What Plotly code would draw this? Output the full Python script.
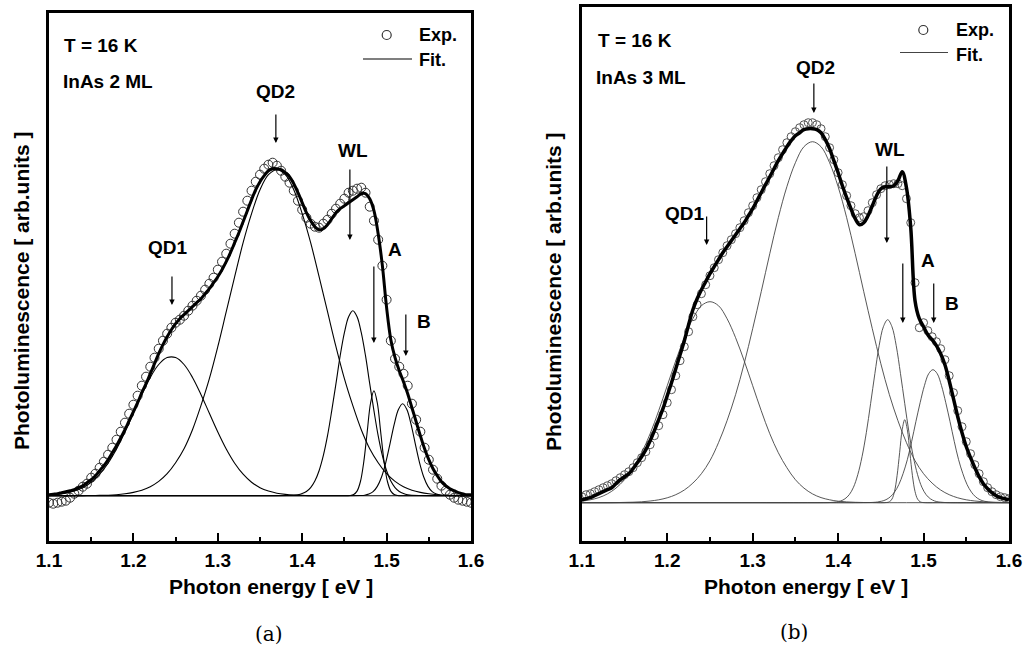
import plotly.graph_objects as go

W, H = 1025, 648
FONT = "Liberation Sans, Arial, Helvetica, sans-serif"

# sampling grid (eV) of the experimental points and total fit curve
E_GRID = [round(1.100 + 0.005 * i, 3) for i in range(101)]
# grid (eV) of the broad Gaussian components
E_COARSE = [round(1.10 + 0.01 * i, 2) for i in range(51)]

# ---------------- panel (a): InAs 2 ML ----------------
A_EXP = [-0.07, -0.08, -0.07, -0.06, -0.05, -0.02, 0.02, 0.05, 0.09, 0.12,
         0.18, 0.22, 0.28, 0.34, 0.41, 0.48, 0.56, 0.64, 0.73, 0.82,
         0.91, 1.00, 1.10, 1.19, 1.29, 1.38, 1.47, 1.55, 1.62, 1.68,
         1.73, 1.76, 1.80, 1.85, 1.90, 1.95, 2.00, 2.06, 2.12, 2.18,
         2.26, 2.34, 2.42, 2.52, 2.62, 2.73, 2.84, 2.95, 3.05, 3.14,
         3.21, 3.27, 3.31, 3.33, 3.30, 3.25, 3.19, 3.13, 3.05, 2.95,
         2.86, 2.78, 2.72, 2.69, 2.68, 2.72, 2.76, 2.82, 2.87, 2.92,
         2.97, 3.03, 3.05, 3.07, 3.08, 3.03, 2.89, 2.75, 2.56, 2.30,
         1.96, 1.55, 1.37, 1.29, 1.22, 1.10, 0.92, 0.76, 0.64, 0.48,
         0.36, 0.26, 0.17, 0.10, 0.05, 0.01, -0.02, -0.04, -0.05, -0.06, -0.07]
A_FIT = [0.01, 0.015, 0.02, 0.03, 0.04, 0.05, 0.06, 0.08, 0.10, 0.13,
         0.16, 0.20, 0.25, 0.30, 0.36, 0.43, 0.50, 0.58, 0.66, 0.75,
         0.84, 0.93, 1.03, 1.12, 1.22, 1.32, 1.42, 1.51, 1.59, 1.66,
         1.72, 1.77, 1.81, 1.85, 1.89, 1.93, 1.97, 2.02, 2.07, 2.13,
         2.19, 2.26, 2.34, 2.43, 2.53, 2.63, 2.74, 2.85, 2.96, 3.06,
         3.14, 3.20, 3.25, 3.27, 3.27, 3.26, 3.23, 3.19, 3.12, 3.03,
         2.93, 2.83, 2.75, 2.69, 2.66, 2.67, 2.71, 2.77, 2.83, 2.87,
         2.90, 2.93, 2.96, 2.99, 3.02, 3.02, 2.97, 2.85, 2.62, 2.30,
         1.88, 1.56, 1.38, 1.25, 1.14, 1.02, 0.88, 0.74, 0.60, 0.47,
         0.36, 0.27, 0.20, 0.14, 0.10, 0.07, 0.05, 0.03, 0.02, 0.01, 0.01]
A_QD1 = [0.006, 0.013, 0.025, 0.046, 0.08, 0.135, 0.215, 0.325, 0.467, 0.637,
         0.824, 1.013, 1.183, 1.312, 1.381, 1.381, 1.312, 1.183, 1.013, 0.824,
         0.637, 0.467, 0.325, 0.215, 0.135, 0.08, 0.046, 0.025, 0.013, 0.006,
         0.003, 0, 0, 0, 0, 0, 0, 0, 0, 0,
         0, 0, 0, 0, 0, 0, 0, 0, 0, 0, 0]
A_QD2 = [0, 0, 0, 0.001, 0.001, 0.002, 0.003, 0.005, 0.010, 0.019,
         0.033, 0.055, 0.090, 0.143, 0.22, 0.33, 0.47, 0.66, 0.90, 1.17,
         1.49, 1.84, 2.19, 2.53, 2.82, 3.06, 3.21, 3.26, 3.21, 3.06,
         2.82, 2.53, 2.19, 1.84, 1.49, 1.17, 0.90, 0.66, 0.47, 0.33,
         0.22, 0.143, 0.090, 0.055, 0.033, 0.019, 0.010, 0.005, 0.003, 0.001, 0]
A_WL_E = [1.10, 1.30, 1.36,
          1.390, 1.395, 1.400, 1.405, 1.410, 1.415, 1.420, 1.425, 1.430, 1.435,
          1.440, 1.445, 1.450, 1.455, 1.460, 1.465, 1.470, 1.475, 1.480, 1.485,
          1.490, 1.495, 1.500, 1.505, 1.510, 1.515, 1.520, 1.525, 1.530,
          1.56, 1.60]
A_WL = [0, 0, 0,
        0.004, 0.009, 0.021, 0.042, 0.081, 0.147, 0.25, 0.40, 0.60, 0.85,
        1.12, 1.40, 1.63, 1.79, 1.85, 1.79, 1.63, 1.40, 1.12, 0.85,
        0.60, 0.40, 0.25, 0.147, 0.081, 0.042, 0.021, 0.009, 0.004,
        0, 0]
A_A_E = [1.10, 1.40, 1.44,
         1.457, 1.461, 1.465, 1.469, 1.473, 1.477, 1.481, 1.485,
         1.489, 1.493, 1.497, 1.501, 1.505, 1.509, 1.513,
         1.54, 1.60]
A_A = [0, 0, 0,
       0.002, 0.012, 0.046, 0.142, 0.341, 0.637, 0.927, 1.05,
       0.927, 0.637, 0.341, 0.142, 0.046, 0.012, 0.002,
       0, 0]
A_B_E = [1.10, 1.40, 1.44,
         1.469, 1.474, 1.479, 1.484, 1.489, 1.494, 1.499, 1.504, 1.509, 1.514,
         1.519, 1.524, 1.529, 1.534, 1.539, 1.544, 1.549, 1.554, 1.559, 1.564, 1.569,
         1.585, 1.60]
A_B = [0, 0, 0,
       0.002, 0.005, 0.016, 0.040, 0.093, 0.187, 0.331, 0.518, 0.713, 0.863,
       0.92, 0.863, 0.713, 0.518, 0.331, 0.187, 0.093, 0.040, 0.016, 0.005, 0.002,
       0, 0]

# ---------------- panel (b): InAs 3 ML ----------------
B_EXP = [0.06, 0.08, 0.09, 0.11, 0.13, 0.15, 0.17, 0.19, 0.22, 0.25,
         0.28, 0.31, 0.35, 0.40, 0.45, 0.51, 0.58, 0.67, 0.77, 0.88,
         1.00, 1.13, 1.27, 1.42, 1.56, 1.71, 1.86, 1.98, 2.09, 2.18,
         2.27, 2.35, 2.43, 2.50, 2.57, 2.63, 2.69, 2.75, 2.82, 2.90,
         2.97, 3.05, 3.13, 3.21, 3.29, 3.37, 3.45, 3.53, 3.60, 3.66,
         3.71, 3.75, 3.78, 3.80, 3.80, 3.78, 3.74, 3.66, 3.55, 3.43,
         3.30, 3.18, 3.07, 2.97, 2.89, 2.85, 2.86, 2.92, 3.00, 3.08,
         3.14, 3.17, 3.18, 3.19, 3.19, 3.17, 3.04, 2.80, 2.20, 1.75,
         1.80, 1.72, 1.66, 1.61, 1.54, 1.43, 1.27, 1.10, 0.92, 0.76,
         0.61, 0.49, 0.38, 0.29, 0.21, 0.15, 0.11, 0.08, 0.06, 0.05, 0.04]
B_FIT = [0.03, 0.04, 0.05, 0.07, 0.09, 0.11, 0.13, 0.15, 0.19, 0.23,
         0.26, 0.29, 0.34, 0.40, 0.46, 0.53, 0.62, 0.72, 0.83, 0.94,
         1.07, 1.20, 1.34, 1.48, 1.62, 1.78, 1.93, 2.04, 2.13, 2.21,
         2.29, 2.36, 2.43, 2.50, 2.56, 2.62, 2.68, 2.74, 2.80, 2.87,
         2.94, 3.02, 3.10, 3.18, 3.26, 3.34, 3.42, 3.49, 3.56, 3.62,
         3.67, 3.70, 3.73, 3.74, 3.74, 3.73, 3.70, 3.63, 3.54, 3.42,
         3.30, 3.17, 3.05, 2.94, 2.84, 2.78, 2.80, 2.87, 2.97, 3.07,
         3.14, 3.16, 3.16, 3.17, 3.22, 3.31, 3.15, 2.75, 2.02, 1.84,
         1.76, 1.68, 1.63, 1.57, 1.49, 1.38, 1.22, 1.04, 0.86, 0.70,
         0.56, 0.45, 0.35, 0.26, 0.19, 0.14, 0.10, 0.07, 0.05, 0.04, 0.03]
B_QD1 = [0.015, 0.029, 0.051, 0.088, 0.146, 0.23, 0.35, 0.50, 0.69, 0.92,
         1.17, 1.42, 1.65, 1.84, 1.97, 2.01, 1.97, 1.84, 1.65, 1.42,
         1.17, 0.92, 0.69, 0.50, 0.35, 0.23, 0.146, 0.088, 0.051, 0.029,
         0.015, 0.008, 0.004, 0.002, 0.001, 0, 0, 0, 0, 0,
         0, 0, 0, 0, 0, 0, 0, 0, 0, 0, 0]
B_QD2 = [0, 0, 0, 0, 0.001, 0.003, 0.005, 0.009, 0.017, 0.029,
         0.049, 0.080, 0.127, 0.196, 0.29, 0.42, 0.60, 0.82, 1.08, 1.39,
         1.74, 2.11, 2.49, 2.85, 3.16, 3.40, 3.56, 3.61, 3.56, 3.40,
         3.16, 2.85, 2.49, 2.11, 1.74, 1.39, 1.08, 0.82, 0.60, 0.42,
         0.29, 0.196, 0.127, 0.080, 0.049, 0.029, 0.017, 0.009, 0.005, 0.003, 0.001]
B_WL_E = [1.10, 1.30, 1.36,
          1.388, 1.393, 1.398, 1.403, 1.408, 1.413, 1.418, 1.423, 1.428, 1.433,
          1.438, 1.443, 1.448, 1.453, 1.458, 1.463, 1.468, 1.473, 1.478, 1.483,
          1.488, 1.493, 1.498, 1.503, 1.508, 1.513, 1.518, 1.523, 1.528,
          1.55, 1.60]
B_WL = [0, 0, 0,
        0.001, 0.003, 0.007, 0.017, 0.039, 0.080, 0.155, 0.28, 0.46, 0.70,
        0.99, 1.29, 1.57, 1.76, 1.83, 1.76, 1.57, 1.29, 0.99, 0.70,
        0.46, 0.28, 0.155, 0.080, 0.039, 0.017, 0.007, 0.003, 0.001,
        0, 0]
B_A_E = [1.10, 1.40, 1.44,
         1.457, 1.460, 1.463, 1.466, 1.469, 1.472, 1.475, 1.478,
         1.481, 1.484, 1.487, 1.490, 1.493, 1.496, 1.499,
         1.52, 1.60]
B_A = [0, 0, 0,
       0.002, 0.009, 0.036, 0.112, 0.27, 0.50, 0.73, 0.83,
       0.73, 0.50, 0.27, 0.112, 0.036, 0.009, 0.002,
       0, 0]
B_B_E = [1.10, 1.38, 1.42,
         1.441, 1.446, 1.451, 1.456, 1.461, 1.466, 1.471, 1.476, 1.481, 1.486,
         1.491, 1.496, 1.501, 1.506, 1.511, 1.516, 1.521, 1.526, 1.531, 1.536,
         1.541, 1.546, 1.551, 1.556, 1.561, 1.566, 1.571, 1.576, 1.581,
         1.60]
B_B = [0, 0, 0,
       0.003, 0.007, 0.015, 0.030, 0.058, 0.106, 0.18, 0.29, 0.43, 0.61,
       0.81, 1.00, 1.17, 1.29, 1.33, 1.29, 1.17, 1.00, 0.81, 0.61,
       0.43, 0.29, 0.18, 0.106, 0.058, 0.030, 0.015, 0.007, 0.003,
       0]

PEAK_LABELS = ["QD1", "QD2", "WL", "A", "B"]


def px(x):
    return x / W


def py(y):
    return 1 - y / H


fig = go.Figure()


def add_panel(xa, ya, exp, fit, comps, exp_color, exp_size, comp_color, comp_width, fit_width):
    fig.add_trace(go.Scatter(x=E_GRID, y=exp, mode="markers", name="Exp.",
                             marker=dict(symbol="circle-open", size=exp_size, color=exp_color,
                                         line=dict(width=1, color=exp_color)),
                             xaxis=xa, yaxis=ya, showlegend=False))
    for name, (ex, ey) in zip(PEAK_LABELS, comps):
        fig.add_trace(go.Scatter(x=ex, y=ey, mode="lines", name=name,
                                 line=dict(color=comp_color, width=comp_width, shape="spline"),
                                 xaxis=xa, yaxis=ya, showlegend=False))
    fig.add_trace(go.Scatter(x=E_GRID, y=fit, mode="lines", name="Fit.",
                             line=dict(color="black", width=fit_width, shape="spline"),
                             xaxis=xa, yaxis=ya, showlegend=False))


add_panel("x", "y", A_EXP, A_FIT,
          [(E_COARSE, A_QD1), (E_COARSE, A_QD2), (A_WL_E, A_WL), (A_A_E, A_A), (A_B_E, A_B)],
          "#333333", 9, "black", 1.1, 3)
add_panel("x2", "y2", B_EXP, B_FIT,
          [(E_COARSE, B_QD1), (E_COARSE, B_QD2), (B_WL_E, B_WL), (B_A_E, B_A), (B_B_E, B_B)],
          "#555555", 8, "#444444", 0.9, 3.5)

xcommon = dict(range=[1.1, 1.6], showline=True, linecolor="black", linewidth=2.5, mirror=True,
               ticks="inside", ticklen=8, tickwidth=2, tickcolor="black",
               tick0=1.1, dtick=0.1, tickformat=".1f", automargin=False,
               tickfont=dict(family=FONT, size=19, color="black", weight="bold"),
               showgrid=False, zeroline=False,
               minor=dict(ticks="inside", ticklen=4, tickwidth=2, tickcolor="black",
                          tick0=1.1, dtick=0.05, showgrid=False))
ycommon = dict(showline=True, linecolor="black", linewidth=2.5, mirror=True, ticks="",
               showticklabels=False, showgrid=False, zeroline=False, automargin=False)

fig.update_layout(
    width=W, height=H, margin=dict(l=0, r=0, t=0, b=0, autoexpand=False),
    paper_bgcolor="white", plot_bgcolor="white", showlegend=False,
    xaxis=dict(domain=[px(49), px(471)], anchor="y", **xcommon),
    yaxis=dict(domain=[py(541), py(13)], anchor="x", range=[-0.453, 4.827], **ycommon),
    xaxis2=dict(domain=[px(581.8), px(1009)], anchor="y2", **xcommon),
    yaxis2=dict(domain=[py(541), py(7)], anchor="x2", range=[-0.383, 4.957], **ycommon),
)

ann = []
shapes = []


def text(x, y, s, size=19, xanchor="center", weight="bold", family=FONT, angle=0):
    ann.append(dict(x=px(x), y=py(y), xref="paper", yref="paper", text=s, showarrow=False,
                    xanchor=xanchor, yanchor="middle", textangle=angle,
                    font=dict(family=family, size=size, color="black", weight=weight)))


def arrow(xr, yr, x, y, length):
    ann.append(dict(x=x, y=y, xref=xr, yref=yr, ax=0, ay=-length, text="", showarrow=True,
                    arrowhead=2, arrowsize=0.9, arrowwidth=1.2, arrowcolor="black", standoff=0))


# panel (a) texts
text(62, 45.5, "T = 16 K", xanchor="left")
text(61, 81, "InAs 2 ML", xanchor="left")
text(21, 291, "Photoluminescence [ arb.units ]", size=21, angle=-90)
text(271, 586, "Photon energy [ eV ]", size=21)
text(269, 634, "(a)", size=20, weight="normal", family="DejaVu Serif, serif")
for lab, (x, y) in zip(PEAK_LABELS, [(168, 247), (275, 92), (353, 150), (395, 249), (424, 321)]):
    text(x, y, lab)
for (x, y, L) in [(1.2457, 1.907, 30), (1.3688, 3.527, 30), (1.4565, 2.557, 72),
                  (1.4849, 1.527, 78), (1.5228, 1.397, 43)]:
    arrow("x", "y", x, y, L)
text(417, 35, "Exp.", size=18, xanchor="left")
text(417, 60, "Fit.", size=18, xanchor="left")
shapes.append(dict(type="circle", xref="paper", yref="paper", xsizemode="pixel", ysizemode="pixel",
                   xanchor=px(386.7), yanchor=py(35), x0=-4.5, x1=4.5, y0=-4.5, y1=4.5,
                   line=dict(color="#333333", width=1.2)))
shapes.append(dict(type="line", xref="paper", yref="paper", x0=px(363), x1=px(412),
                   y0=py(59), y1=py(59), line=dict(color="black", width=1.1)))

# panel (b) texts
text(596, 41, "T = 16 K", xanchor="left")
text(594, 77.5, "InAs 3 ML", xanchor="left")
text(553, 292, "Photoluminescence [ arb.units ]", size=21, angle=-90)
text(805.5, 586, "Photon energy [ eV ]", size=21)
text(794, 632, "(b)", size=20, weight="normal", family="DejaVu Serif, serif")
for lab, (x, y) in zip(PEAK_LABELS, [(685, 213), (815, 67), (890, 149), (928, 260), (952, 303)]):
    text(x, y, lab)
for (x, y, L) in [(1.2461, 2.577, 30), (1.3716, 3.897, 31), (1.457, 2.597, 78),
                  (1.4757, 1.797, 61), (1.5119, 1.797, 41)]:
    arrow("x2", "y2", x, y, L)
text(954, 30, "Exp.", size=18, xanchor="left")
text(954, 55, "Fit.", size=18, xanchor="left")
shapes.append(dict(type="circle", xref="paper", yref="paper", xsizemode="pixel", ysizemode="pixel",
                   xanchor=px(923.3), yanchor=py(30), x0=-4.5, x1=4.5, y0=-4.5, y1=4.5,
                   line=dict(color="#333333", width=1.2)))
shapes.append(dict(type="line", xref="paper", yref="paper", x0=px(900), x1=px(948),
                   y0=py(52.5), y1=py(52.5), line=dict(color="#444444", width=1)))

fig.update_layout(annotations=ann, shapes=shapes)
fig.write_html("out.html")
